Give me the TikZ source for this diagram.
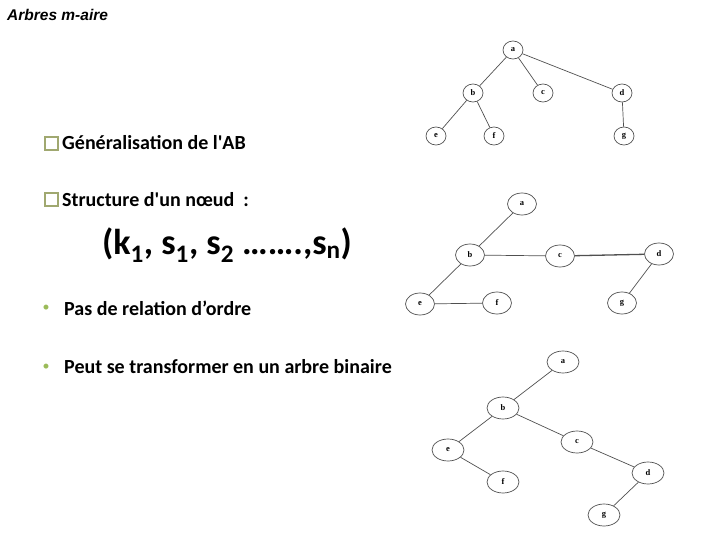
\documentclass[tikz,border=0pt]{standalone}
\usepackage{fontspec}
\setmainfont{Carlito}
\newfontfamily\titlefont{Liberation Sans}
\newfontfamily\lblfont{Liberation Serif}
\usetikzlibrary{shapes.geometric}
\definecolor{olive}{RGB}{160,168,112}
\definecolor{bulletc}{RGB}{155,187,89}
\definecolor{edgec}{RGB}{80,80,80}
\tikzset{
  txt/.style={anchor=west, inner sep=0pt, font=\bfseries\fontsize{20}{22}\selectfont},
  chk/.style={draw=olive, line width=1.6pt, minimum width=12.5pt, minimum height=12.5pt, inner sep=0pt},
  bul/.style={text=bulletc, inner sep=0pt, font=\fontsize{14}{14}\selectfont},
  tnA/.style={draw=edgec, ellipse, minimum width=20pt, minimum height=18pt, inner sep=0pt, line width=0.7pt, font=\lblfont\bfseries\fontsize{8.5}{8.5}\selectfont},
  tnB/.style={tnA, minimum width=29pt, minimum height=22pt},
  tnC/.style={tnA, minimum width=32pt, minimum height=22pt},
  edge/.style={draw=edgec, line width=0.7pt},
}
\begin{document}
\begin{tikzpicture}[x=1pt,y=-1pt]
\useasboundingbox (0,0) rectangle (720,540);
% title
\node[anchor=west, inner sep=0pt, font=\titlefont\bfseries\itshape\fontsize{15.5}{16}\selectfont] (title) at (7,15) {Arbres m-aire};
% text
\node[chk] (box1) at (51.5,143.5) {};
\node[txt] (t1) at (62,143) {Généralisation de l\textquotesingle AB};
\node[chk] (box2) at (51.5,199.5) {};
\node[txt] (t2) at (62,200) {Structure d\textquotesingle un nœud\ \ :};
\node[anchor=west, inner sep=0pt, font=\bfseries\fontsize{36}{38}\selectfont] (formula) at (102,245)
  {(k\textsubscript{1}, s\textsubscript{1}, s\textsubscript{2} …….,s\textsubscript{n})};
\node[bul] (b1) at (46,308) {•};
\node[txt] (t3) at (64,308) {Pas de relation d’ordre};
\node[bul] (b2) at (46,367) {•};
\node[txt] (t4) at (64,367) {Peut se transformer en un arbre binaire};
% tree 1
\node[tnA] (a1) at (513,50) {a};
\node[tnA] (b1n) at (473,93) {b};
\node[tnA] (c1) at (543,93) {c};
\node[tnA] (d1) at (622,93) {d};
\node[tnA] (e1) at (436,136) {e};
\node[tnA] (f1) at (494,136) {f};
\node[tnA] (g1) at (624,136) {g};
\path[edge] (a1) -- (b1n) (a1) -- (c1) (a1) -- (d1) (b1n) -- (e1) (b1n) -- (f1) (d1) -- (g1);
% tree 2
\node[tnB] (a2) at (522,204) {a};
\node[tnB] (b2n) at (470,255) {b};
\node[tnB] (c2) at (560,256) {c};
\node[tnB] (d2) at (659,254) {d};
\node[tnB] (e2) at (420,304) {e};
\node[tnB] (f2) at (497,303) {f};
\node[tnB] (g2) at (622,303) {g};
\path[edge] (a2) -- (b2n) (b2n) -- (c2) (b2n) -- (e2) (e2) -- (f2) (d2) -- (g2);
\path[edge, line width=1.3pt] (c2) -- (d2);
% tree 3
\node[tnC] (a3) at (563,362) {a};
\node[tnC] (b3n) at (503,408) {b};
\node[tnC] (c3) at (577,442) {c};
\node[tnC] (d3) at (648,473) {d};
\node[tnC] (e3) at (448,450) {e};
\node[tnC] (f3) at (503,482) {f};
\node[tnC] (g3) at (604,515) {g};
\path[edge] (a3) -- (b3n) (b3n) -- (e3) (b3n) -- (c3) (c3) -- (d3) (d3) -- (g3) (e3) -- (f3);
\end{tikzpicture}
\end{document}
